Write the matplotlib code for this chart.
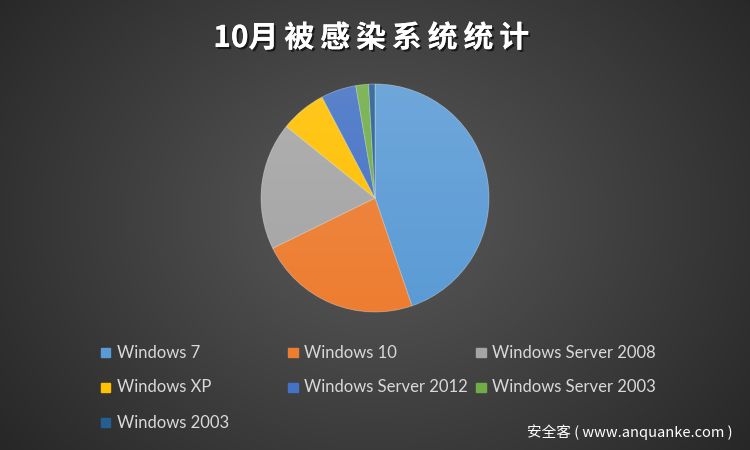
import numpy as np
import matplotlib.pyplot as plt
import matplotlib.patheffects as pe
from matplotlib.patches import Circle

# data (share of infected systems, %)
systems = ["Windows 7", "Windows 10", "Windows Server 2008", "Windows XP",
           "Windows Server 2012", "Windows Server 2003", "Windows 2003"]
shares = [44.8, 23.0, 18.1, 6.5, 5.0, 1.8, 0.9]
colors = ["#5B9BD5", "#ED7D31", "#A5A5A5", "#FFC000",
          "#4472C4", "#70AD47", "#255E91"]
title = "10月被感染系统统计"
watermark = "安全客 ( www.anquanke.com )"

plt.rcParams['font.family'] = ['Lato', 'Noto Sans CJK SC', 'DejaVu Sans']

fig = plt.figure(figsize=(7.5, 4.5), dpi=100)

# radial gradient background
bg = fig.add_axes([0, 0, 1, 1])
yy, xx = np.mgrid[0:450, 0:750]
d = np.sqrt(((xx - 375) / 520.0) ** 2 + ((yy - 215) / 420.0) ** 2)
d = np.clip(d, 0, 1)
c0 = np.array([0x5a, 0x5a, 0x5a]) / 255.0
c1 = np.array([0x22, 0x22, 0x22]) / 255.0
img = c0 + (c1 - c0) * d[..., None]
bg.imshow(img, extent=[0, 1, 0, 1], aspect='auto', origin='upper')
bg.set_axis_off()

# pie
r_px = 114
cx, cy = 375, 198
ax = fig.add_axes([(cx - r_px) / 750, (450 - cy - r_px) / 450,
                   2 * r_px / 750, 2 * r_px / 450])
wedges, _ = ax.pie(shares, colors=colors, startangle=90, counterclock=False,
                   wedgeprops=dict(edgecolor=(1, 1, 1, 0.35), linewidth=0.6))
ax.set_xlim(-1.0, 1.0)
ax.set_ylim(-1.0, 1.0)
ax.set_aspect('equal')

# soft light-to-dark shading over the pie
shade = np.zeros((100, 1, 4))
shade[..., :3] = 1.0
shade[:, 0, 3] = np.linspace(0.12, 0.0, 100)
sh = ax.imshow(shade, extent=[-1, 1, -1, 1], aspect='auto', origin='upper', zorder=5)
sh.set_clip_path(Circle((0, 0), 1.0, transform=ax.transData))

# title, spaced out a little like the original
spaced = title[:3] + "".join("\u2009" + ch for ch in title[3:])
fig.text(0.4953, 1 - 38 / 450, spaced, ha='center', va='center', fontsize=21.5,
         fontweight='bold', color='white',
         family=['Noto Sans CJK SC', 'DejaVu Sans'],
         path_effects=[pe.withSimplePatchShadow(offset=(1.5, -1.5),
                                                shadow_rgbFace='black', alpha=0.6),
                       pe.Normal()])

# legend: three columns laid out row by row
col_x = [101 / 750, 288 / 750, 476 / 750]
row_y = [1 - 352.5 / 450, 1 - 387.5 / 450, 1 - 422.5 / 450]
for i, (name, col) in enumerate(zip(systems, colors)):
    x = col_x[i % 3]
    y = row_y[i // 3]
    fig.patches.append(plt.Rectangle((x, y - 0.0105), 9.5 / 750, 9.5 / 450,
                                     transform=fig.transFigure, color=col))
    fig.text(x + 16 / 750, y, name, ha='left', va='center', fontsize=12,
             color='#D9D9D9')

# watermark
fig.text(733 / 750, 1 - 432 / 450, watermark, ha='right', va='center', fontsize=10.5,
         color='white', family=['Noto Sans CJK SC', 'DejaVu Sans'])

fig.savefig('out.png', dpi=100)
